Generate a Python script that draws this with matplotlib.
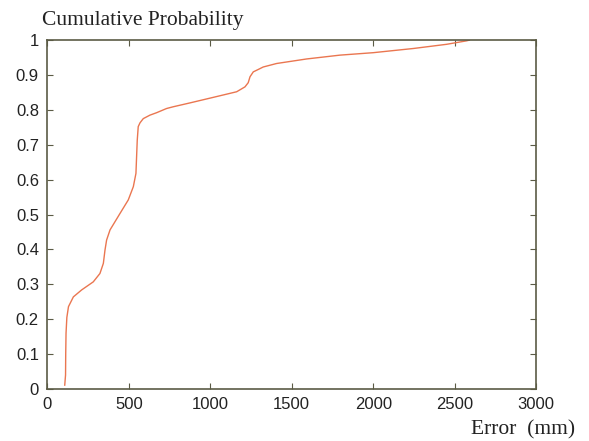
import numpy as np
import matplotlib
matplotlib.use("Agg")
import matplotlib.pyplot as plt

# data (error in mm, cumulative probability)
error_mm = [107, 112, 113, 115, 120, 130, 160, 211, 282, 323, 344, 354,
            364, 385, 446, 497, 528, 544, 548, 552, 558, 569, 589, 630,
            671, 732, 773, 875, 1019, 1162, 1213, 1233, 1244, 1264, 1295,
            1325, 1407, 1591, 1796, 2000, 2102, 2246, 2450, 2573, 2590]
cum_prob = [0.011, 0.04, 0.10, 0.16, 0.205, 0.236, 0.264, 0.284, 0.307,
            0.331, 0.36, 0.398, 0.427, 0.456, 0.503, 0.542, 0.58, 0.618,
            0.666, 0.713, 0.752, 0.763, 0.775, 0.785, 0.792, 0.804, 0.809,
            0.82, 0.836, 0.852, 0.866, 0.878, 0.895, 0.909, 0.916, 0.923,
            0.933, 0.946, 0.957, 0.964, 0.969, 0.976, 0.988, 0.998, 1.0]
x_ticks = [0, 500, 1000, 1500, 2000, 2500, 3000]
y_ticks = [0, 0.1, 0.2, 0.3, 0.4, 0.5, 0.6, 0.7, 0.8, 0.9, 1]

# figure settings
frame_col = '#5b5b45'
line_col = '#ea7650'

fig = plt.figure(figsize=(5.89, 4.41), dpi=100)
ax = fig.add_axes([0.0803, 0.118, 0.830, 0.791])

ax.plot(error_mm, cum_prob, color=line_col, linewidth=1.0)

ax.set_xlim(0, 3000)
ax.set_ylim(0, 1)
ax.set_xticks(x_ticks)
ax.set_yticks(y_ticks)
ax.set_xticklabels([str(t) for t in x_ticks])
ax.set_yticklabels(['0', '0.1', '0.2', '0.3', '0.4', '0.5', '0.6', '0.7', '0.8', '0.9', '1'])
ax.tick_params(direction='in', length=4, width=0.8, color=frame_col,
               top=True, right=True, labelsize=12, pad=6)
for lab in ax.get_xticklabels() + ax.get_yticklabels():
    lab.set_fontfamily('Liberation Sans')
    lab.set_color('#222222')
for sp in ax.spines.values():
    sp.set_color(frame_col)
    sp.set_linewidth(1.2)

fig.text(42 / 589, 1 - 25 / 441, 'Cumulative Probability', fontsize=15.5,
         family='Liberation Serif', color='#222222', ha='left', va='baseline')
fig.text(575 / 589, 1 - 434 / 441, 'Error  (mm)', fontsize=15.5,
         family='Liberation Serif', color='#222222', ha='right', va='baseline')

fig.savefig('out.png', dpi=100, facecolor='w')
